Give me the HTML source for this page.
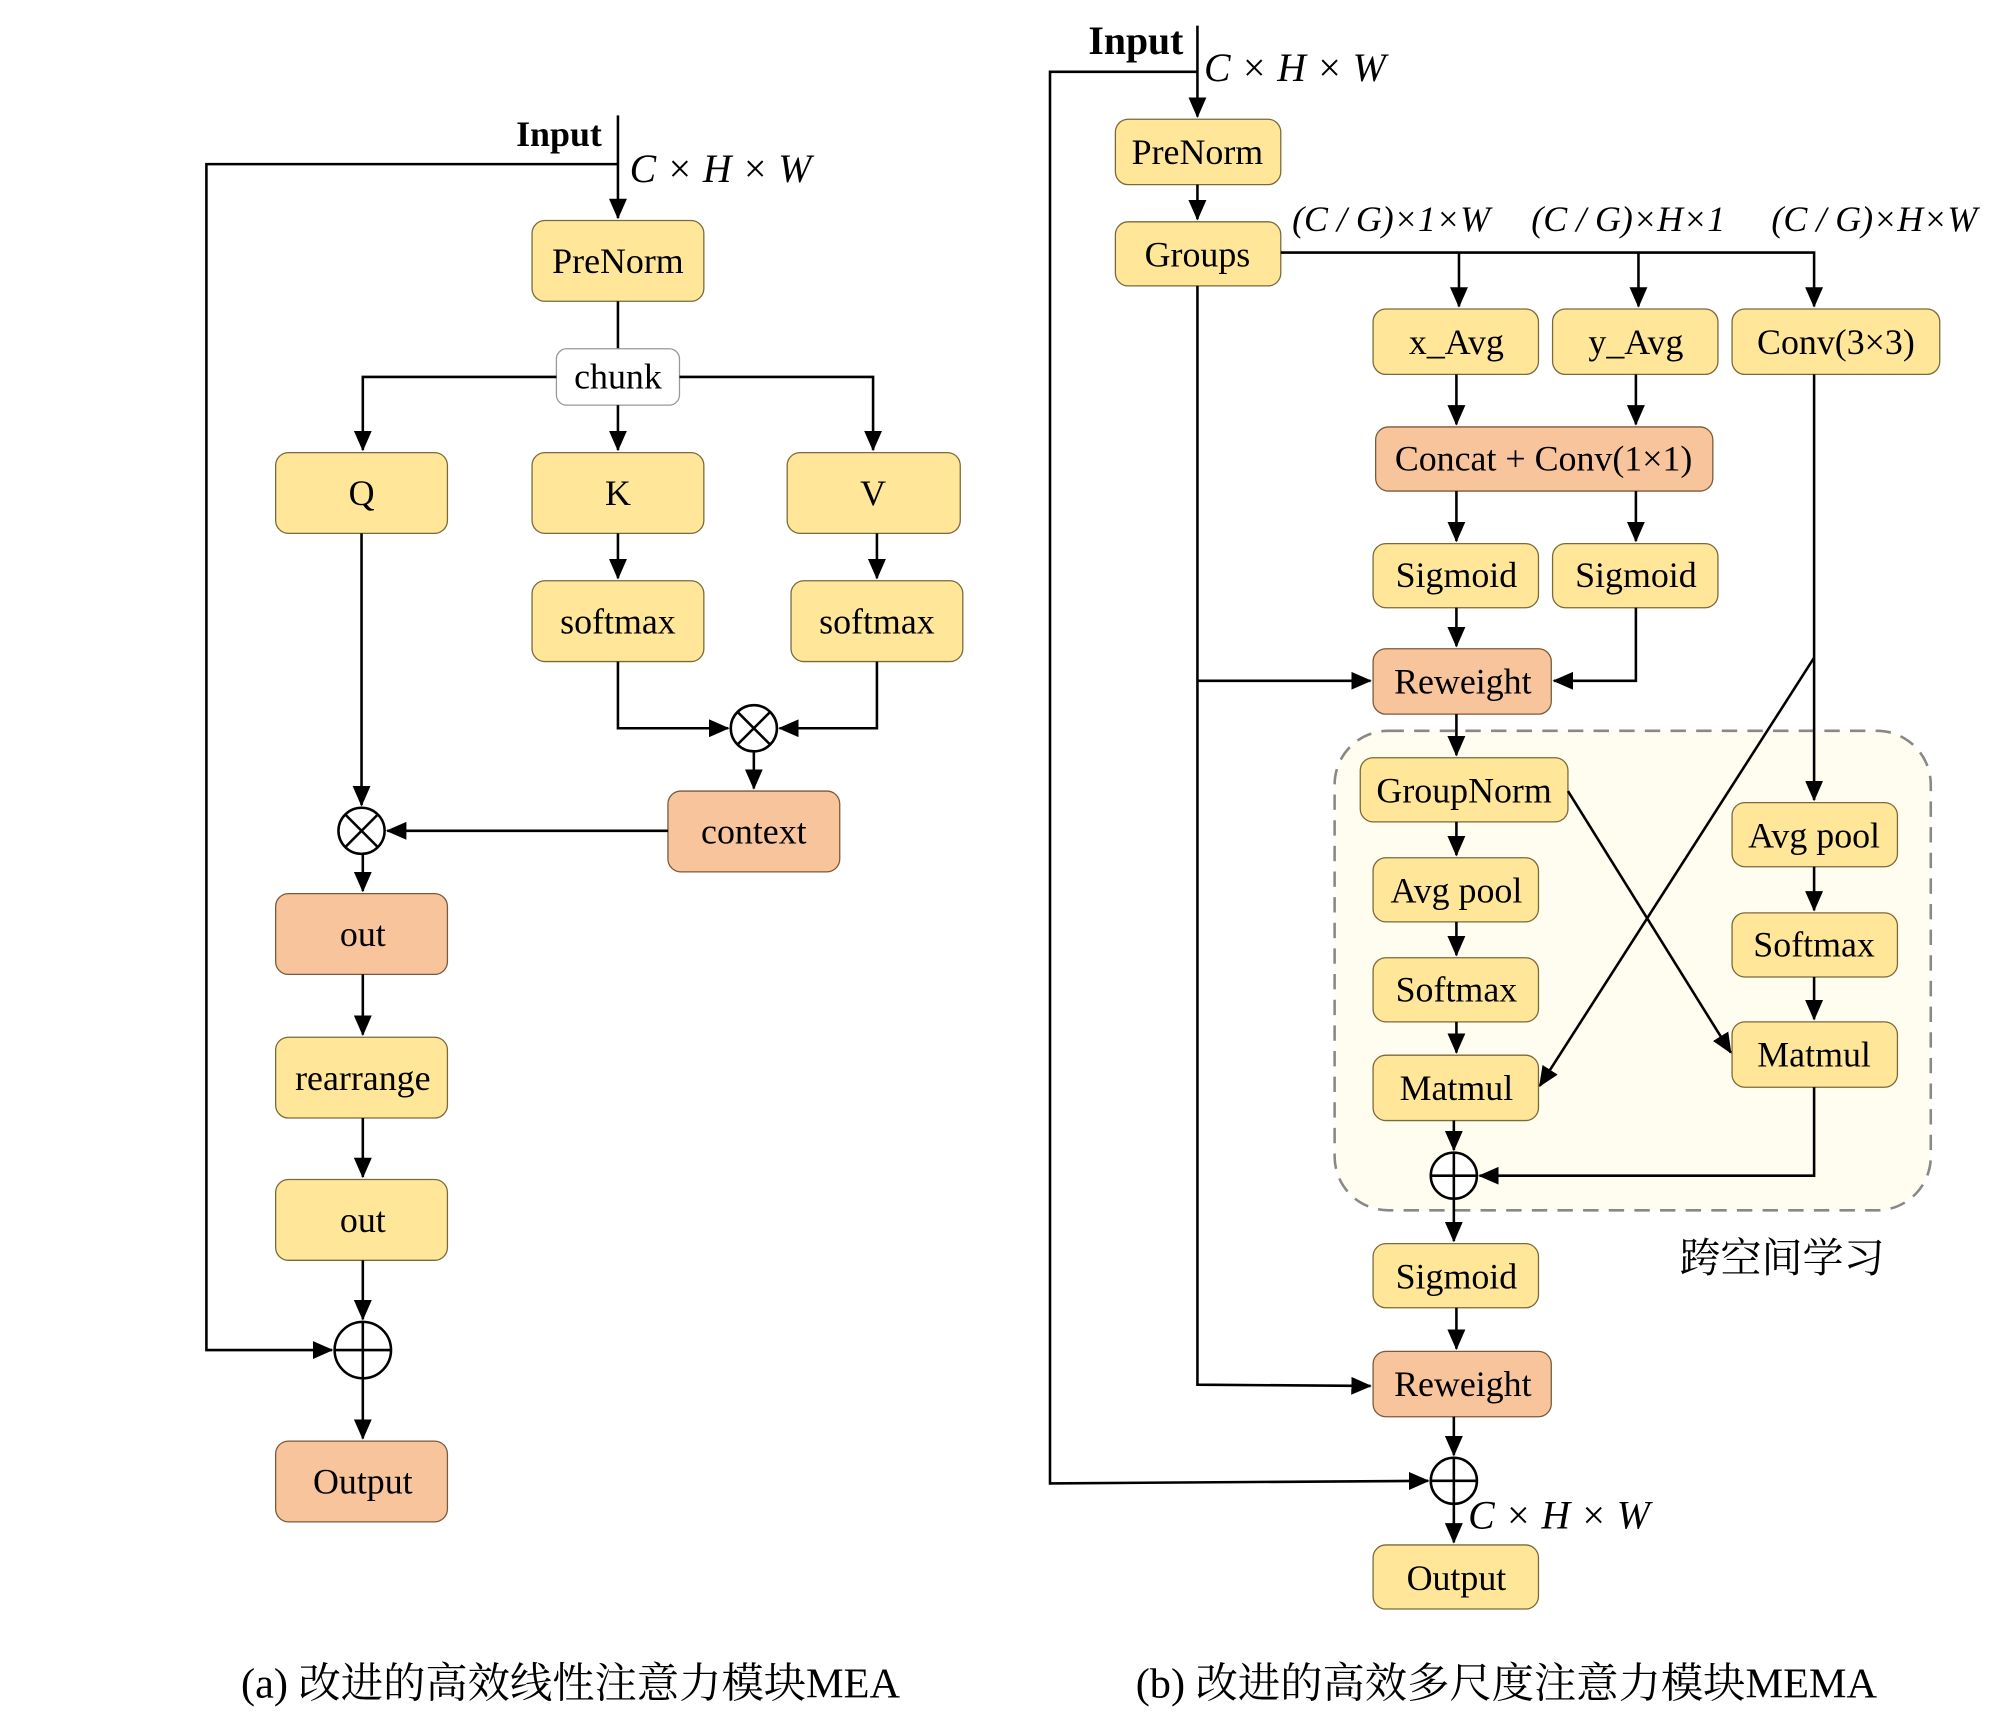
<!DOCTYPE html>
<html><head><meta charset="utf-8"><style>
html,body{margin:0;padding:0;background:#fff}
svg{display:block}
text{font-family:"Liberation Serif","Noto Serif CJK SC",serif;fill:#000}
.b{font-size:28px}
.y{fill:#FFE699;stroke:#7a6a3a;stroke-width:1}
.o{fill:#F8C49C;stroke:#7a5a3a;stroke-width:1}
.l{stroke:#000;stroke-width:2;fill:none}
</style></head><body>
<svg width="2000" height="1727" viewBox="0 0 1560 1347" preserveAspectRatio="none" xmlns="http://www.w3.org/2000/svg">
<defs><marker id="a" markerWidth="16" markerHeight="14" refX="15" refY="7" orient="auto" markerUnits="userSpaceOnUse" viewBox="0 0 16 14"><path d="M0,0 L16,7 L0,14z" fill="#000"/></marker></defs>
<g text-anchor="middle">
<!-- (a) -->
<text x="436" y="114" style="font-size:28px;font-weight:bold">Input</text>
<text x="562" y="142" style="font-size:31px;font-style:italic">C × H × W</text>
<path class="l" d="M482,90 V170" marker-end="url(#a)"/>
<path class="l" d="M482,128 H161 V1053 H259" marker-end="url(#a)"/>
<rect class="y" x="415" y="172" width="134" height="63" rx="10"/><text class="b" x="482" y="213">PreNorm</text>
<path class="l" d="M482,235 V272"/>
<rect x="434" y="272" width="96" height="44" rx="8" fill="#fff" stroke="#999"/><text class="b" x="482" y="303">chunk</text>
<path class="l" d="M434,294 H283 V351" marker-end="url(#a)"/>
<path class="l" d="M530,294 H681 V351" marker-end="url(#a)"/>
<path class="l" d="M482,316 V351" marker-end="url(#a)"/>
<rect class="y" x="215" y="353" width="134" height="63" rx="10"/><text class="b" x="282" y="394">Q</text>
<rect class="y" x="415" y="353" width="134" height="63" rx="10"/><text class="b" x="482" y="394">K</text>
<rect class="y" x="614" y="353" width="135" height="63" rx="10"/><text class="b" x="681" y="394">V</text>
<path class="l" d="M482,416 V451" marker-end="url(#a)"/>
<path class="l" d="M684,416 V451" marker-end="url(#a)"/>
<rect class="y" x="415" y="453" width="134" height="63" rx="10"/><text class="b" x="482" y="494">softmax</text>
<rect class="y" x="617" y="453" width="134" height="63" rx="10"/><text class="b" x="684" y="494">softmax</text>
<path class="l" d="M482,516 V568 H568" marker-end="url(#a)"/>
<path class="l" d="M684,516 V568 H608" marker-end="url(#a)"/>
<circle cx="588" cy="568" r="18" fill="#fff" stroke="#000" stroke-width="2"/>
<path class="l" d="M575,555 L601,581 M601,555 L575,581"/>
<path class="l" d="M588,586 V615" marker-end="url(#a)"/>
<rect class="o" x="521" y="617" width="134" height="63" rx="10"/><text class="b" x="588" y="658">context</text>
<path class="l" d="M282,416 V628" marker-end="url(#a)"/>
<path class="l" d="M521,648 H302" marker-end="url(#a)"/>
<circle cx="282" cy="648" r="18" fill="#fff" stroke="#000" stroke-width="2"/>
<path class="l" d="M269,635 L295,661 M295,635 L269,661"/>
<path class="l" d="M283,666 V695" marker-end="url(#a)"/>
<rect class="o" x="215" y="697" width="134" height="63" rx="10"/><text class="b" x="283" y="738">out</text>
<path class="l" d="M283,760 V807" marker-end="url(#a)"/>
<rect class="y" x="215" y="809" width="134" height="63" rx="10"/><text class="b" x="283" y="850">rearrange</text>
<path class="l" d="M283,872 V918" marker-end="url(#a)"/>
<rect class="y" x="215" y="920" width="134" height="63" rx="10"/><text class="b" x="283" y="961">out</text>
<path class="l" d="M283,983 V1029" marker-end="url(#a)"/>
<circle cx="283" cy="1053" r="22" fill="#fff" stroke="#000" stroke-width="2"/>
<path class="l" d="M261,1053 H305 M283,1031 V1075"/>
<path class="l" d="M283,1075 V1122" marker-end="url(#a)"/>
<rect class="o" x="215" y="1124" width="134" height="63" rx="10"/><text class="b" x="283" y="1165">Output</text>
<!-- (b) -->
<rect x="1041" y="570" width="465" height="374" rx="42" fill="#FFFCF0" stroke="#888" stroke-width="2" stroke-dasharray="12,8"/>
<text x="886" y="42" style="font-size:31px;font-weight:bold">Input</text>
<text x="1010" y="63" style="font-size:31px;font-style:italic">C × H × W</text>
<path class="l" d="M934,20 V91" marker-end="url(#a)"/>
<path class="l" d="M934,56 H819 V1157 L1114,1155" marker-end="url(#a)"/>
<rect class="y" x="870" y="93" width="129" height="51" rx="10"/><text class="b" x="934" y="128">PreNorm</text>
<path class="l" d="M934,144 V171" marker-end="url(#a)"/>
<rect class="y" x="870" y="173" width="129" height="50" rx="10"/><text class="b" x="934" y="208">Groups</text>
<g style="font-size:28px;font-style:italic"><text x="1085" y="180">(C / G)×1×W</text><text x="1270" y="180">(C / G)×H×1</text><text x="1462" y="180">(C / G)×H×W</text></g>
<path class="l" d="M999,197 H1415 V239" marker-end="url(#a)"/>
<path class="l" d="M1138,197 V239" marker-end="url(#a)"/>
<path class="l" d="M1278,197 V239" marker-end="url(#a)"/>
<rect class="y" x="1071" y="241" width="129" height="51" rx="10"/><text class="b" x="1136" y="276">x_Avg</text>
<rect class="y" x="1211" y="241" width="129" height="51" rx="10"/><text class="b" x="1276" y="276">y_Avg</text>
<rect class="y" x="1351" y="241" width="162" height="51" rx="10"/><text class="b" x="1432" y="276">Conv(3×3)</text>
<path class="l" d="M1136,292 V331" marker-end="url(#a)"/>
<path class="l" d="M1276,292 V331" marker-end="url(#a)"/>
<rect class="o" x="1073" y="333" width="263" height="50" rx="10"/><text class="b" x="1204" y="367">Concat + Conv(1×1)</text>
<path class="l" d="M1136,383 V422" marker-end="url(#a)"/>
<path class="l" d="M1276,383 V422" marker-end="url(#a)"/>
<rect class="y" x="1071" y="424" width="129" height="50" rx="10"/><text class="b" x="1136" y="458">Sigmoid</text>
<rect class="y" x="1211" y="424" width="129" height="50" rx="10"/><text class="b" x="1276" y="458">Sigmoid</text>
<path class="l" d="M1136,474 V504" marker-end="url(#a)"/>
<path class="l" d="M1276,474 V531 H1212" marker-end="url(#a)"/>
<path class="l" d="M934,223 V1080 L1069,1081" marker-end="url(#a)"/>
<path class="l" d="M934,531 L1069,531" marker-end="url(#a)"/>
<rect class="o" x="1071" y="506" width="139" height="51" rx="10"/><text class="b" x="1141" y="541">Reweight</text>
<path class="l" d="M1136,557 V589" marker-end="url(#a)"/>
<rect class="y" x="1061" y="591" width="162" height="50" rx="10"/><text class="b" x="1142" y="626">GroupNorm</text>
<path class="l" d="M1136,641 V667" marker-end="url(#a)"/>
<rect class="y" x="1071" y="669" width="129" height="50" rx="10"/><text class="b" x="1136" y="704">Avg pool</text>
<path class="l" d="M1136,719 V745" marker-end="url(#a)"/>
<rect class="y" x="1071" y="747" width="129" height="50" rx="10"/><text class="b" x="1136" y="781">Softmax</text>
<path class="l" d="M1136,797 V821" marker-end="url(#a)"/>
<rect class="y" x="1071" y="823" width="129" height="51" rx="10"/><text class="b" x="1136" y="858">Matmul</text>
<path class="l" d="M1415,292 V624" marker-end="url(#a)"/>
<rect class="y" x="1351" y="626" width="129" height="50" rx="10"/><text class="b" x="1415" y="661">Avg pool</text>
<path class="l" d="M1415,676 V710" marker-end="url(#a)"/>
<rect class="y" x="1351" y="712" width="129" height="50" rx="10"/><text class="b" x="1415" y="746">Softmax</text>
<path class="l" d="M1415,762 V795" marker-end="url(#a)"/>
<rect class="y" x="1351" y="797" width="129" height="51" rx="10"/><text class="b" x="1415" y="832">Matmul</text>
<path class="l" d="M1415,513 L1201,847" marker-end="url(#a)"/>
<path class="l" d="M1223,617 L1350,821" marker-end="url(#a)"/>
<path class="l" d="M1134,874 V897" marker-end="url(#a)"/>
<path class="l" d="M1415,848 V917 H1154" marker-end="url(#a)"/>
<circle cx="1134" cy="917" r="18" fill="#fff" stroke="#000" stroke-width="2"/>
<path class="l" d="M1116,917 H1152 M1134,899 V935"/>
<text x="1390" y="992" style="font-size:32px">跨空间学习</text>
<path class="l" d="M1134,935 V968" marker-end="url(#a)"/>
<rect class="y" x="1071" y="970" width="129" height="50" rx="10"/><text class="b" x="1136" y="1005">Sigmoid</text>
<path class="l" d="M1136,1020 V1052" marker-end="url(#a)"/>
<rect class="o" x="1071" y="1054" width="139" height="51" rx="10"/><text class="b" x="1141" y="1089">Reweight</text>
<path class="l" d="M1134,1105 V1135" marker-end="url(#a)"/>
<circle cx="1134" cy="1155" r="18" fill="#fff" stroke="#000" stroke-width="2"/>
<path class="l" d="M1116,1155 H1152 M1134,1137 V1173"/>
<text x="1216" y="1192" style="font-size:31px;font-style:italic">C × H × W</text>
<path class="l" d="M1134,1173 V1203" marker-end="url(#a)"/>
<rect class="y" x="1071" y="1205" width="129" height="50" rx="10"/><text class="b" x="1136" y="1240">Output</text>
<text x="445" y="1324" style="font-size:33px">(a) 改进的高效线性注意力模块MEA</text>
<text x="1175" y="1324" style="font-size:33px">(b) 改进的高效多尺度注意力模块MEMA</text>
</g>
</svg>
</body></html>
